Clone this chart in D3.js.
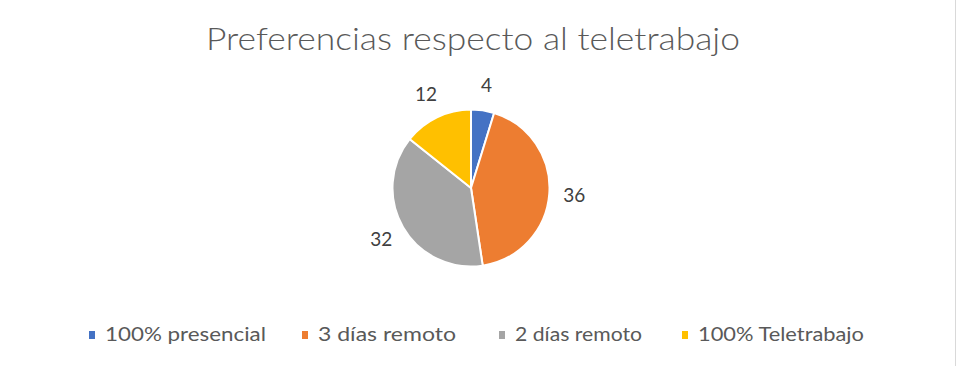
<!DOCTYPE html>
<html>
<head>
<meta charset="utf-8">
<script src="https://cdn.jsdelivr.net/npm/d3@7"></script>
<style>
  body { margin: 0; background: #fff; }
  svg { display: block; }
</style>
</head>
<body>
<script>
var categories = ["100% presencial", "3 días remoto", "2 días remoto", "100% Teletrabajo"];
var values = [4, 36, 32, 12];
var colors = ["#4472C4", "#ED7D31", "#A5A5A5", "#FFC000"];
var title = "Preferencias respecto al teletrabajo";

var width = 957, height = 366;
var cx = 471, cy = 188, radius = 78.5;

var svg = d3.select("body").append("svg")
    .attr("width", width)
    .attr("height", height);

svg.append("rect")
    .attr("width", width).attr("height", height)
    .attr("fill", "#fff");

// light border on the right
svg.append("line")
    .attr("x1", 955.5).attr("x2", 955.5)
    .attr("y1", 0).attr("y2", height)
    .attr("stroke", "#d9d9d9").attr("stroke-width", 1);

svg.append("text")
    .attr("x", 206)
    .attr("y", 49.5)
    .attr("textLength", 534)
    .attr("lengthAdjust", "spacingAndGlyphs")
    .style("font", "300 31px Lato, 'Open Sans', sans-serif")
    .attr("fill", "#595959")
    .text(title);

var data = categories.map(function(c, i) { return {name: c, value: values[i], color: colors[i]}; });

var pie = d3.pie()
    .sort(null)
    .value(function(d) { return d.value; });

var arc = d3.arc()
    .outerRadius(radius)
    .innerRadius(0);

var labelArc = d3.arc()
    .outerRadius(radius + 25)
    .innerRadius(radius + 25);

var g = svg.append("g")
    .attr("transform", "translate(" + cx + "," + cy + ")");

var slices = g.selectAll(".arc")
    .data(pie(data))
    .enter().append("g")
    .attr("class", "arc");

slices.append("path")
    .attr("d", arc)
    .attr("fill", function(d) { return d.data.color; })
    .attr("stroke", "#fff")
    .attr("stroke-width", 2);

slices.append("text")
    .attr("transform", function(d) { return "translate(" + labelArc.centroid(d) + ")"; })
    .attr("dy", "0.35em")
    .attr("text-anchor", "middle")
    .style("font", "19px Lato, 'Open Sans', sans-serif")
    .attr("fill", "#404040")
    .text(function(d) { return d.data.value; });

// legend
var legendX = [89, 302, 499, 682];
var legendW = [161, 138, 127, 166];
var legend = svg.selectAll(".legend")
    .data(data)
    .enter().append("g")
    .attr("class", "legend")
    .attr("transform", function(d, i) { return "translate(" + legendX[i] + ",335)"; });

legend.append("rect")
    .attr("x", 0).attr("y", -4)
    .attr("width", 6).attr("height", 8)
    .attr("fill", function(d) { return d.color; });

legend.append("text")
    .attr("x", 16)
    .attr("dy", "0.35em")
    .attr("textLength", function(d, i) { return legendW[i]; })
    .attr("lengthAdjust", "spacingAndGlyphs")
    .style("font", "18.5px Lato, 'Open Sans', sans-serif")
    .attr("fill", "#595959")
    .text(function(d) { return d.name; });
</script>
</body>
</html>
